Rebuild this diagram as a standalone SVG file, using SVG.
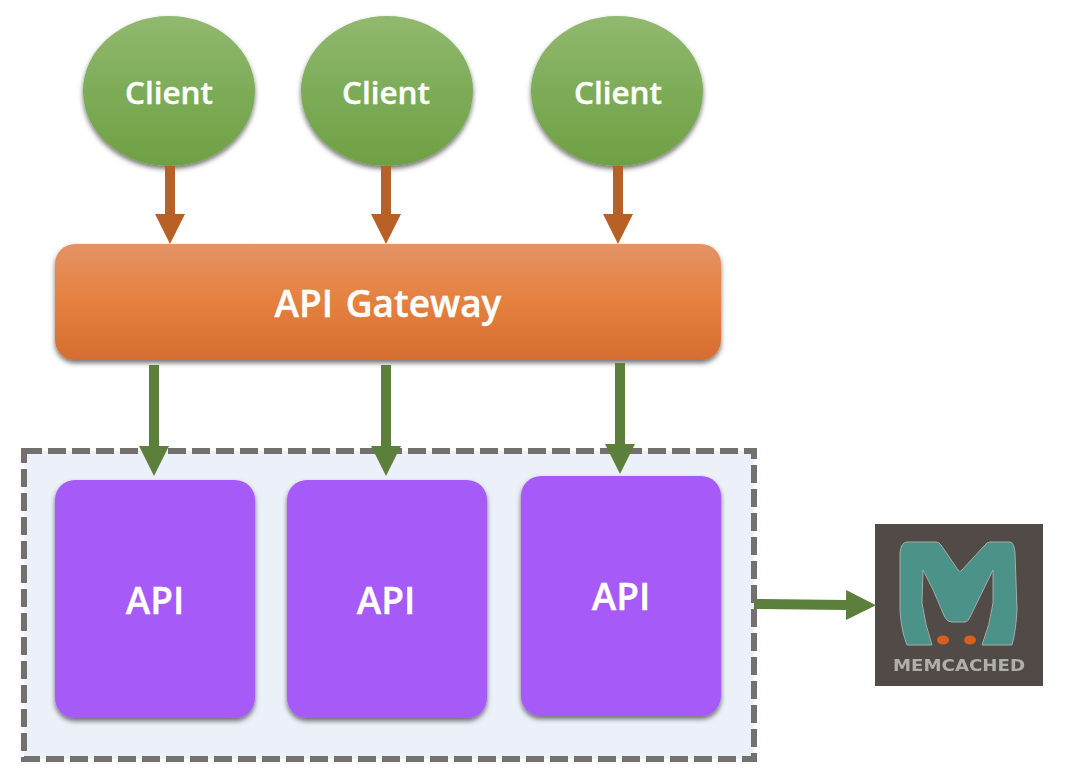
<svg xmlns="http://www.w3.org/2000/svg" width="1068" height="774" viewBox="0 0 1068 774">
<defs>
<linearGradient id="g" x1="0" y1="0" x2="0" y2="1"><stop offset="0" stop-color="#91b96f"/><stop offset="0.5" stop-color="#7dac58"/><stop offset="1" stop-color="#6fa044"/></linearGradient>
<linearGradient id="o" x1="0" y1="0" x2="0" y2="1"><stop offset="0" stop-color="#e49366"/><stop offset="0.5" stop-color="#e5803e"/><stop offset="1" stop-color="#d56d2f"/></linearGradient>
<filter id="s" x="-10%" y="-10%" width="120%" height="120%"><feDropShadow dx="0" dy="3" stdDeviation="2.5" flood-color="#000" flood-opacity="0.55"/></filter>
<filter id="b" x="-5%" y="-5%" width="110%" height="110%"><feGaussianBlur stdDeviation="0.7"/></filter>
<marker id="ao" markerUnits="userSpaceOnUse" markerWidth="30" markerHeight="30" refX="0" refY="15" orient="auto"><path d="M0 0L30 15L0 30Z" fill="#b96026"/></marker>
<marker id="ag" markerUnits="userSpaceOnUse" markerWidth="30" markerHeight="30" refX="0" refY="15" orient="auto"><path d="M0 0L30 15L0 30Z" fill="#5d7f3c"/></marker>
</defs>
<style>
text{font-family:"Open Sans","Noto Sans","Liberation Sans",sans-serif;font-weight:600;fill:#fff;text-anchor:middle;stroke:#fff;stroke-width:0.4px}
.l{font-size:31.5px}
.n{font-size:37px}
.api{fill:#a65af7;filter:url(#s)}
.co{stroke:#b96026;stroke-width:10;fill:none;marker-end:url(#ao)}
.cg{stroke:#5d7f3c;stroke-width:10;fill:none;marker-end:url(#ag)}
</style>
<rect x="24" y="451" width="730" height="308" fill="#ecf0f8" stroke="#757070" stroke-width="6" stroke-dasharray="18 6"/>
<g id="client-1"><ellipse cx="169" cy="91" rx="86" ry="75" fill="url(#g)" filter="url(#s)"/><text class="l" x="169" y="104">Client</text></g>
<g id="client-2"><ellipse cx="387" cy="91" rx="86" ry="75" fill="url(#g)" filter="url(#s)"/><text class="l" x="386" y="104">Client</text></g>
<g id="client-3"><ellipse cx="617" cy="91" rx="86" ry="75" fill="url(#g)" filter="url(#s)"/><text class="l" x="618" y="104">Client</text></g>
<g id="gateway"><rect x="55" y="244" width="666" height="116" rx="20" fill="url(#o)" filter="url(#s)"/><text class="n" x="388" y="317" style="word-spacing:3px">API Gateway</text></g>
<g id="api-1"><rect class="api" x="55" y="480" width="200" height="238" rx="20"/><text class="n" x="155" y="614">API</text></g>
<g id="api-2"><rect class="api" x="287" y="480" width="200" height="238" rx="20"/><text class="n" x="386" y="614">API</text></g>
<g id="api-3"><rect class="api" x="521" y="476" width="200" height="240" rx="20"/><text class="n" x="621" y="610">API</text></g>
<g id="memcached">
<rect x="875" y="524" width="168" height="162" fill="#524a47"/>
<path filter="url(#b)" d="M907 542H936Q939 542 941 545L958 570Q960 573 962 570L985 545Q987 542 990 542H1010Q1014 542 1015 553L1017 610Q1016 630 1012 645H982Q990 625 993 603L993 570L970 617Q968 622 965 622H952Q946 622 943 613Q934 590 923 570L922 603Q925 625 932 645H907Q901 630 900 610V553Q901 542 907 542Z" fill="#4b9288" stroke="#a3aca8" stroke-width="1"/>
<ellipse cx="943" cy="640" rx="6" ry="4.5" fill="#d8601f" filter="url(#b)"/>
<ellipse cx="970" cy="640" rx="6" ry="4.5" fill="#d8601f" filter="url(#b)"/>
<text x="959" y="671" filter="url(#b)" style="font-family:'DejaVu Sans',sans-serif;font-size:15px;font-weight:700;fill:#b0b0ab;stroke:none" textLength="132" lengthAdjust="spacingAndGlyphs">MEMCACHED</text>
</g>
<g id="connectors">
<path class="co" d="M170 166V214"/>
<path class="co" d="M386 166V214"/>
<path class="co" d="M618 166V214"/>
<path class="cg" d="M154 365V446"/>
<path class="cg" d="M386 365V446"/>
<path class="cg" d="M620 363V444"/>
<path class="cg" d="M754 604L846 605"/>
</g>
</svg>
